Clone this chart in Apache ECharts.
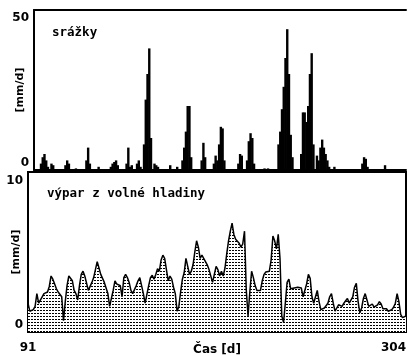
<!DOCTYPE html>
<html>
<head>
<meta charset="utf-8">
<script src="https://cdn.jsdelivr.net/npm/echarts@6/dist/echarts.min.js"></script>
<style>
html,body{margin:0;padding:0;background:#fff;}
#c{width:408px;height:356px;}
</style>
</head>
<body>
<div id="c"></div>
<script>
// ---- data ----
const firstDay = 91;
const lastDay = 304;
const xTickLabels = [91, 304];
const rainTicks = [0, 50];
const evapTicks = [0, 10];

// precipitation [mm/d] on rainy days
const rainDays = [95,96,97,98,99,101,102,109,110,111,115,121,122,123,128,135,136,137,138,139,
  144,145,146,147,150,151,152,154,155,156,157,158,160,161,162,169,173,
  176,177,178,179,180,181,187,188,189,194,195,196,197,198,199,200,208,209,210,
  213,214,215,216,217,223,225,231,232,233,234,235,236,237,238,239,
  244,245,246,247,248,249,250,251,253,254,255,256,257,258,259,260,263,279,280,281,282,292];
const rainMm = [2,4,5,3,1,2,1.5,1.5,3,2,0.5,3,7,2,1,1,2,2.5,3,1.5,
  2,7,1,1.5,2,3,1,8,22,30,38,10,2,1.5,1,1.5,1,
  3,7,12,20,20,4,3,8.5,4,2,4.5,3,8,13.5,13,3,2,5,4.5,
  3,9,11.5,10,2,0.5,0.5,8,12,19,26,35,44,30,11,4,
  5,18,18,15,20,30,36.5,8,4.5,3,7,9.5,7,5,3,1,1,2,4,3.5,1,1.5];

// evaporation from free water surface [mm/d], one value per day from day 91
const evaporation = [
  1.8,1.3,1.2,1.4,1.6,2.4,1.8,1.7,2.2,2.4,
  2.3,2.5,2.85,3.5,3.3,3.0,2.7,2.5,2.4,2.2,
  0.7,1.9,2.9,3.5,3.6,3.2,2.6,2.4,2.0,2.9,
  3.6,3.8,3.5,3.5,2.6,2.5,3.1,3.4,3.9,4.4,
  4.0,3.6,3.5,3.1,3.1,2.4,1.6,1.5,2.6,3.2,
  3.0,2.9,2.9,2.2,3.4,3.6,3.4,3.1,2.6,2.4,
  2.3,2.9,3.2,3.4,3.3,2.4,1.8,1.7,2.9,3.4,
  3.55,3.3,3.6,3.95,3.8,4.5,4.8,4.6,3.9,3.2,
  3.5,3.3,2.8,2.4,1.3,1.6,2.5,3.3,3.7,4.6,
  4.1,3.6,3.8,4.2,5.0,5.7,5.3,4.6,4.8,4.6,
  4.7,4.2,3.9,4.0,3.1,3.1,4.1,3.9,3.5,3.8,
  3.5,4.0,4.9,5.7,6.3,6.8,6.1,5.8,5.8,5.55,
  5.3,5.5,6.3,2.6,1.0,2.5,3.8,3.4,2.9,2.6,
  2.7,2.6,3.2,3.6,3.75,3.65,3.8,4.5,6.0,5.7,
  5.2,6.1,4.6,1.0,0.6,1.8,3.1,3.3,2.7,2.6,
  2.75,2.7,2.8,2.7,2.75,2.2,2.2,3.0,3.6,3.35,
  2.2,1.8,2.2,2.6,1.9,1.4,1.4,1.5,1.5,1.8,
  2.2,2.4,1.8,1.3,1.5,1.7,1.8,1.6,1.8,1.95,
  2.1,1.8,1.7,2.2,2.8,3.05,1.9,1.2,1.5,2.1,
  2.4,2.0,1.6,1.7,1.75,1.55,1.45,1.7,1.9,1.75,
  1.45,1.4,1.45,1.3,1.3,1.4,1.55,1.8,2.4,1.9,
  1.1,0.9,1.0,1.0
];

// ---- chart ----
const rainData = rainDays.map((d, i) => [d, rainMm[i]]);
const evapData = evaporation.map((v, i) => [firstDay + i, v]);

const pat = document.createElement('canvas');
pat.width = 3; pat.height = 3;
const pctx = pat.getContext('2d');
pctx.fillStyle = '#fff'; pctx.fillRect(0, 0, 3, 3);
pctx.fillStyle = '#000'; pctx.fillRect(1, 1, 2, 1);

const labelFont = {color: '#000', fontFamily: 'DejaVu Sans', fontWeight: 'bold', fontSize: 12};
const titleFont = {color: '#000', fontFamily: 'DejaVu Sans Mono', fontWeight: 'bold', fontSize: 12.5};
const line2 = {show: true, lineStyle: {color: '#000', width: 2}};

const chart = echarts.init(document.getElementById('c'), null, {renderer: 'canvas'});
chart.setOption({
  backgroundColor: '#fff',
  animation: false,
  title: [
    {text: 'srážky', left: 52, top: 26, padding: 0, textStyle: titleFont},
    {text: 'výpar z volné hladiny', left: 47, top: 187, padding: 0, textStyle: titleFont}
  ],
  grid: [
    {left: 34, right: 2, top: 10, height: 160, outerBoundsMode: 'none', containLabel: false},
    {left: 28, right: 2, top: 172, height: 160, outerBoundsMode: 'none', containLabel: false,
      show: true, borderColor: '#000', borderWidth: 2, backgroundColor: 'transparent'}
  ],
  xAxis: [
    {type: 'value', gridIndex: 0, min: firstDay, max: lastDay, axisLine: line2, axisTick: {show: false}, axisLabel: {show: false}, splitLine: {show: false}},
    {type: 'value', gridIndex: 0, position: 'top', min: firstDay, max: lastDay, axisLine: line2, axisTick: {show: false}, axisLabel: {show: false}, splitLine: {show: false}},
    {type: 'value', gridIndex: 1, min: firstDay, max: lastDay, axisLine: line2, axisTick: {show: false}, splitLine: {show: false},
      axisLabel: Object.assign({customValues: xTickLabels, margin: 10, alignMinLabel: 'center', alignMaxLabel: 'right'}, labelFont),
      name: 'Čas [d]', nameLocation: 'middle', nameGap: 12, nameMoveOverlap: false, nameTextStyle: labelFont}
  ],
  yAxis: [
    {type: 'value', gridIndex: 0, min: rainTicks[0], max: rainTicks[1], interval: rainTicks[1] - rainTicks[0],
      axisLine: line2, axisTick: {show: false}, splitLine: {show: false},
      axisLabel: Object.assign({margin: 5, verticalAlignMinLabel: 'bottom', verticalAlignMaxLabel: 'top', padding: [2, 0, 1, 0]}, labelFont),
      name: '[mm/d]', nameLocation: 'middle', nameGap: 8, nameMoveOverlap: false, nameTextStyle: Object.assign({}, labelFont, {fontSize: 11})},
    {type: 'value', gridIndex: 1, min: evapTicks[0], max: evapTicks[1], interval: evapTicks[1] - evapTicks[0],
      axisLine: line2, axisTick: {show: false}, splitLine: {show: false},
      axisLabel: Object.assign({margin: 5, verticalAlignMinLabel: 'bottom', verticalAlignMaxLabel: 'top', padding: [3, 0, 1, 0]}, labelFont),
      name: '[mm/d]', nameLocation: 'middle', nameGap: 6, nameMoveOverlap: false, nameTextStyle: Object.assign({}, labelFont, {fontSize: 11})}
  ],
  series: [
    {type: 'bar', xAxisIndex: 0, yAxisIndex: 0, data: rainData, barWidth: 2.4, itemStyle: {color: '#000'}, silent: true},
    {type: 'line', xAxisIndex: 2, yAxisIndex: 1, data: evapData, showSymbol: false, symbol: 'none',
      lineStyle: {color: '#000', width: 1.5}, areaStyle: {color: {image: pat, repeat: 'repeat'}, opacity: 1}, silent: true}
  ]
});
</script>
</body>
</html>
